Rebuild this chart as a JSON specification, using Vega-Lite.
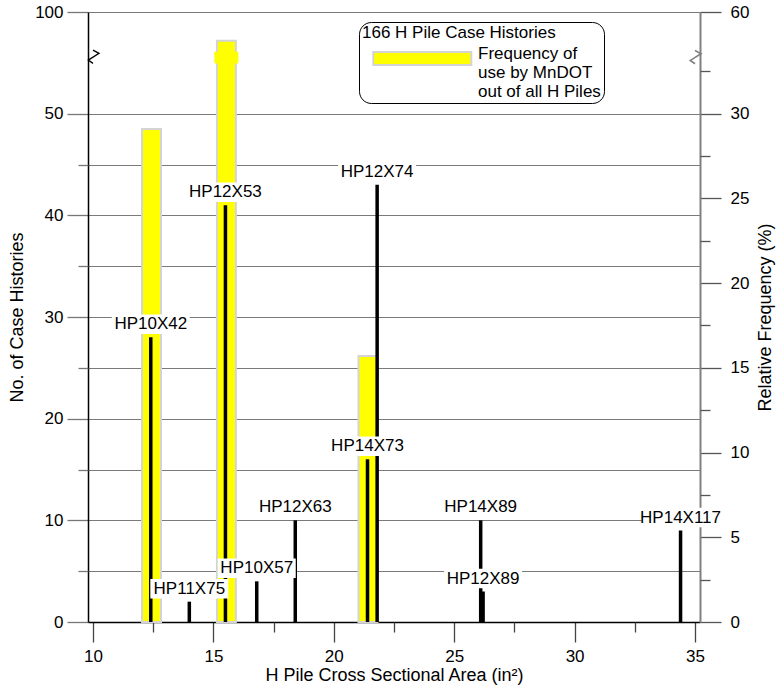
{
  "$schema": "https://vega.github.io/schema/vega-lite/v6.json",
  "width": 612,
  "height": 610,
  "autosize": {"type": "none"},
  "padding": {"left": 88, "top": 12, "right": 78, "bottom": 70},
  "background": "white",
  "config": {
    "font": "Liberation Sans",
    "view": {"stroke": null},
    "axis": {"labelFontSize": 17, "titleFontSize": 18, "titleFontWeight": "normal", "labelColor": "black", "titleColor": "black", "labelFont": "Liberation Sans", "titleFont": "Liberation Sans", "labelOverlap": false},
    "text": {"font": "Liberation Sans"}
  },
  "datasets": {
    "piles": [
      {"label": "HP10X42", "area": 12.4, "count": 28},
      {"label": "HP11X75", "area": 14.0, "count": 2},
      {"label": "HP12X53", "area": 15.5, "count": 41},
      {"label": "HP10X57", "area": 16.8, "count": 4},
      {"label": "HP12X63", "area": 18.4, "count": 10},
      {"label": "HP14X73", "area": 21.4, "count": 16},
      {"label": "HP12X74", "area": 21.8, "count": 43},
      {"label": "HP14X89", "area": 26.1, "count": 10},
      {"label": "HP12X89", "area": 26.2, "count": 3},
      {"label": "HP14X117", "area": 34.4, "count": 9}
    ],
    "freq": [
      {"area": 12.43, "pct": 29.1},
      {"area": 15.54, "pct": 51.5},
      {"area": 21.42, "pct": 15.7}
    ],
    "cap": [{"area": 15.54, "lo": 44.8, "hi": 48.3}],
    "breaksL": [{"area": 10, "count": 78}],
    "breaksR": [{"area": 35, "pct": 46.7}]
  },
  "layer": [
    {
      "data": {"name": "piles"},
      "mark": {"type": "point", "opacity": 0},
      "encoding": {
        "x": {"field": "area", "type": "quantitative", "scale": {"domain": [10, 35], "nice": false, "zero": false}, "axis": null},
        "y": {"field": "count", "type": "quantitative", "scale": {"domain": [0, 50, 100], "range": [610, 101.67, 0], "nice": false, "zero": false},
          "axis": {"orient": "left", "values": [5, 10, 15, 20, 25, 30, 35, 40, 45, 50, 100], "grid": true, "gridColor": "#7a7a7a", "gridWidth": 1.2, "gridOpacity": 1, "ticks": false, "labels": false, "domain": false, "title": null}}
      }
    },
    {
      "data": {"name": "freq"},
      "mark": {"type": "bar", "orient": "vertical", "size": 19, "stroke": "#d4d4d4", "strokeWidth": 2},
      "encoding": {
        "x": {"field": "area", "type": "quantitative", "scale": {"domain": [10, 35], "nice": false, "zero": false},
          "axis": {"orient": "bottom", "values": [10, 15, 20, 25, 30, 35], "tickSize": 20, "tickColor": "#444", "tickWidth": 1.3, "domainColor": "black", "domainWidth": 1.5, "labelPadding": 6, "labelFlush": false, "grid": false, "title": "H Pile Cross Sectional Area (in²)", "titlePadding": 2}},
        "y": {"field": "pct", "type": "quantitative", "scale": {"domain": [0, 30, 60], "range": [610, 101.67, 0], "nice": false, "zero": false},
          "axis": {"orient": "right", "values": [0, 5, 10, 15, 20, 25, 30, 60], "tickSize": 21, "tickColor": "#555", "tickWidth": 1.3, "domainColor": "#808080", "domainWidth": 2, "labelPadding": 9, "grid": false, "title": "Relative Frequency (%)", "titleAngle": 270, "titleBaseline": "top", "titlePadding": 8, "zindex": 0}},
        "color": {"datum": "Frequency of use by MnDOT out of all H Piles", "type": "nominal", "scale": {"range": ["#ffff00"]},
          "legend": {
            "orient": "none", "legendX": 271, "legendY": 10,
            "title": "166 H Pile Case Histories", "titleFontSize": 17, "titleFontWeight": "normal", "titleColor": "black", "titlePadding": 8, "titleFont": "Liberation Sans", "titleLimit": 400,
            "labelExpr": "['Frequency of', 'use by MnDOT', 'out of all H Piles']", "labelFontSize": 17, "labelFont": "Liberation Sans", "labelColor": "black", "labelLimit": 0, "labelOffset": 99, "labelBaseline": "alphabetic", "labelLineHeight": 19,
            "symbolType": "M0.4,-0.93L14.4,-0.93L14.4,0.93L0.4,0.93Z", "symbolSize": 196, "symbolFillColor": "#ffff00", "symbolStrokeColor": "#d4d4d4", "symbolStrokeWidth": 2, "symbolOpacity": 1,
            "padding": 3, "strokeColor": "black", "fillColor": "white", "cornerRadius": 12
          }}
      }
    },
    {
      "data": {"name": "cap"},
      "mark": {"type": "bar", "orient": "vertical", "size": 24, "color": "#ffff00"},
      "encoding": {
        "x": {"field": "area", "type": "quantitative", "scale": {"domain": [10, 35], "nice": false, "zero": false}, "axis": null},
        "y": {"field": "hi", "type": "quantitative", "scale": {"domain": [0, 30, 60], "range": [610, 101.67, 0], "nice": false, "zero": false}, "axis": null},
        "y2": {"field": "lo"}
      }
    },
    {
      "data": {"name": "piles"},
      "mark": {"type": "bar", "orient": "vertical", "size": 3.5, "color": "black"},
      "encoding": {
        "x": {"field": "area", "type": "quantitative", "scale": {"domain": [10, 35], "nice": false, "zero": false},
          "axis": {"orient": "bottom", "values": [12.5, 17.5, 22.5, 27.5, 32.5], "tickSize": 10, "tickColor": "#444", "tickWidth": 1.3, "labels": false, "domain": false, "grid": false, "title": null}},
        "y": {"field": "count", "type": "quantitative", "scale": {"domain": [0, 50, 100], "range": [610, 101.67, 0], "nice": false, "zero": false},
          "axis": {"orient": "left", "values": [0, 10, 20, 30, 40, 50, 100], "tickSize": 21, "tickColor": "#777", "tickWidth": 1.3, "domainColor": "black", "domainWidth": 1.5, "labelPadding": 4, "grid": false, "title": "No. of Case Histories", "titlePadding": 8}}
      }
    },
    {
      "data": {"name": "piles"},
      "mark": {"type": "point", "opacity": 0},
      "encoding": {
        "x": {"field": "area", "type": "quantitative", "scale": {"domain": [10, 35], "nice": false, "zero": false}, "axis": null},
        "y": {"field": "count", "type": "quantitative", "scale": {"domain": [0, 50, 100], "range": [610, 101.67, 0], "nice": false, "zero": false},
          "axis": {"orient": "left", "values": [5, 15, 25, 35, 45], "tickSize": 10, "tickColor": "#777", "tickWidth": 1.3, "labels": false, "domain": false, "grid": false, "title": null}}
      }
    },
    {
      "data": {"name": "freq"},
      "mark": {"type": "point", "opacity": 0},
      "encoding": {
        "x": {"field": "area", "type": "quantitative", "scale": {"domain": [10, 35], "nice": false, "zero": false}, "axis": null},
        "y": {"field": "pct", "type": "quantitative", "scale": {"domain": [0, 30, 60], "range": [610, 101.67, 0], "nice": false, "zero": false},
          "axis": {"orient": "right", "values": [2.5, 7.5, 12.5, 17.5, 22.5, 27.5, 42.5], "tickSize": 10, "tickColor": "#555", "tickWidth": 1.3, "labels": false, "domain": false, "grid": false, "title": null, "zindex": 0}}
      }
    },
    {
      "data": {"name": "piles"},
      "mark": {"type": "point", "shape": "M-1,-0.25L1,-0.25L1,0.25L-1,0.25Z", "size": 6084, "filled": true, "fill": "white", "opacity": 1, "strokeWidth": 0, "yOffset": -13},
      "encoding": {
        "x": {"field": "area", "type": "quantitative", "scale": {"domain": [10, 35], "nice": false, "zero": false}, "axis": null},
        "y": {"field": "count", "type": "quantitative", "scale": {"domain": [0, 50, 100], "range": [610, 101.67, 0], "nice": false, "zero": false}, "axis": null}
      }
    },
    {
      "data": {"name": "piles"},
      "mark": {"type": "text", "dy": -13, "fontSize": 17, "baseline": "middle", "align": "center", "color": "black"},
      "encoding": {
        "x": {"field": "area", "type": "quantitative", "scale": {"domain": [10, 35], "nice": false, "zero": false}, "axis": null},
        "y": {"field": "count", "type": "quantitative", "scale": {"domain": [0, 50, 100], "range": [610, 101.67, 0], "nice": false, "zero": false}, "axis": null},
        "text": {"field": "label"}
      }
    },
    {
      "data": {"name": "breaksL"},
      "mark": {"type": "point", "shape": "M0,-0.95L0.86,-0.48L-0.67,0.48L0,0.95", "size": 196, "filled": false, "stroke": "black", "strokeWidth": 1.3, "opacity": 1},
      "encoding": {
        "x": {"field": "area", "type": "quantitative", "scale": {"domain": [10, 35], "nice": false, "zero": false}, "axis": null},
        "y": {"field": "count", "type": "quantitative", "scale": {"domain": [0, 50, 100], "range": [610, 101.67, 0], "nice": false, "zero": false}, "axis": null}
      }
    },
    {
      "data": {"name": "breaksR"},
      "mark": {"type": "point", "shape": "M0,-0.95L0.86,-0.48L-0.67,0.48L0,0.95", "size": 196, "filled": false, "stroke": "#808080", "strokeWidth": 1.6, "opacity": 1},
      "encoding": {
        "x": {"field": "area", "type": "quantitative", "scale": {"domain": [10, 35], "nice": false, "zero": false}, "axis": null},
        "y": {"field": "pct", "type": "quantitative", "scale": {"domain": [0, 30, 60], "range": [610, 101.67, 0], "nice": false, "zero": false}, "axis": null}
      }
    }
  ],
  "resolve": {"scale": {"y": "independent"}, "axis": {"x": "independent", "y": "independent"}}
}
